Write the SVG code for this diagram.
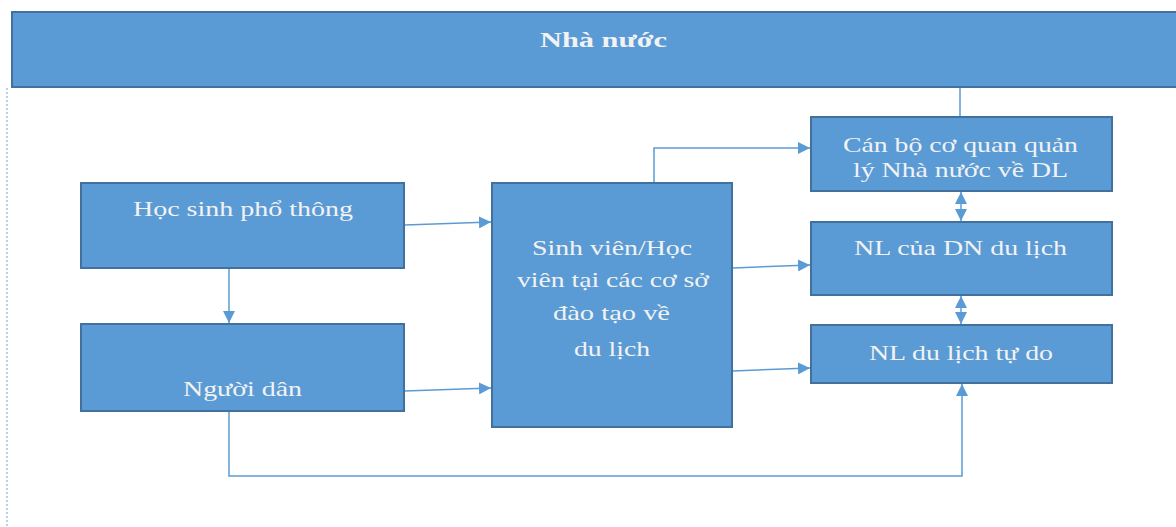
<svg xmlns="http://www.w3.org/2000/svg" width="1176" height="527" viewBox="0 0 1176 527">
<defs>
<style>
.box{fill:#5B9BD5;stroke:#41719C;stroke-width:2}
.t{font-family:"Liberation Serif","Times New Roman",serif;font-size:21px;fill:#F2F2F2;text-anchor:middle}
.c{fill:none;stroke:#5B9BD5;stroke-width:1.5}
</style>
<marker id="ah" viewBox="0 0 10 10" refX="10" refY="5" markerWidth="12" markerHeight="12" markerUnits="userSpaceOnUse" orient="auto-start-reverse">
<path d="M0,0 L10,5 L0,10 Z" fill="#5B9BD5"/>
</marker>
</defs>
<rect width="1176" height="527" fill="#FFFFFF"/>
<line x1="7" y1="88" x2="7" y2="527" stroke="#9DC3E6" stroke-width="1.5" stroke-dasharray="2,2"/>
<g id="nha-nuoc">
<rect class="box" x="12" y="12" width="1170" height="75"/>
<text class="t" x="603.5" y="47" font-weight="bold" font-size="22" textLength="127" lengthAdjust="spacingAndGlyphs">Nhà nước</text>
</g>
<g id="hoc-sinh">
<rect class="box" x="81" y="183" width="323" height="85"/>
<text class="t" x="243" y="216" textLength="220" lengthAdjust="spacingAndGlyphs">Học sinh phổ thông</text>
</g>
<g id="nguoi-dan">
<rect class="box" x="81" y="324" width="323" height="87"/>
<text class="t" x="242.5" y="396" textLength="119" lengthAdjust="spacingAndGlyphs">Người dân</text>
</g>
<g id="sinh-vien">
<rect class="box" x="492" y="183" width="240" height="244"/>
<text class="t" x="612" y="255" textLength="160" lengthAdjust="spacingAndGlyphs">Sinh viên/Học</text>
<text class="t" x="613" y="287" textLength="192" lengthAdjust="spacingAndGlyphs">viên tại các cơ sở</text>
<text class="t" x="611.5" y="320" textLength="117" lengthAdjust="spacingAndGlyphs">đào tạo về</text>
<text class="t" x="612" y="356" textLength="76" lengthAdjust="spacingAndGlyphs">du lịch</text>
</g>
<g id="can-bo">
<rect class="box" x="811" y="117" width="301" height="74"/>
<text class="t" x="960.5" y="152" textLength="235" lengthAdjust="spacingAndGlyphs">Cán bộ cơ quan quản</text>
<text class="t" x="960.5" y="177" textLength="215" lengthAdjust="spacingAndGlyphs">lý Nhà nước về DL</text>
</g>
<g id="nl-dn">
<rect class="box" x="811" y="222" width="301" height="73"/>
<text class="t" x="960.5" y="255" textLength="213" lengthAdjust="spacingAndGlyphs">NL của DN du lịch</text>
</g>
<g id="nl-tu-do">
<rect class="box" x="811" y="325" width="301" height="58"/>
<text class="t" x="961" y="360" textLength="184" lengthAdjust="spacingAndGlyphs">NL du lịch tự do</text>
</g>
<g id="connectors">
<line class="c" x1="960" y1="88" x2="960" y2="116"/>
<line class="c" x1="229" y1="269" x2="229" y2="323" marker-end="url(#ah)"/>
<line class="c" x1="405" y1="225" x2="491" y2="222" marker-end="url(#ah)"/>
<line class="c" x1="405" y1="391" x2="491" y2="388" marker-end="url(#ah)"/>
<line class="c" x1="733" y1="268" x2="810" y2="265" marker-end="url(#ah)"/>
<line class="c" x1="733" y1="371" x2="810" y2="368" marker-end="url(#ah)"/>
<polyline class="c" points="654,182 654,148 810,148" marker-end="url(#ah)"/>
<polyline class="c" points="229,412 229,476 962,476 962,384" marker-end="url(#ah)"/>
<line class="c" x1="961" y1="192" x2="961" y2="221" marker-start="url(#ah)" marker-end="url(#ah)"/>
<line class="c" x1="961" y1="296" x2="961" y2="324" marker-start="url(#ah)" marker-end="url(#ah)"/>
</g>
</svg>
